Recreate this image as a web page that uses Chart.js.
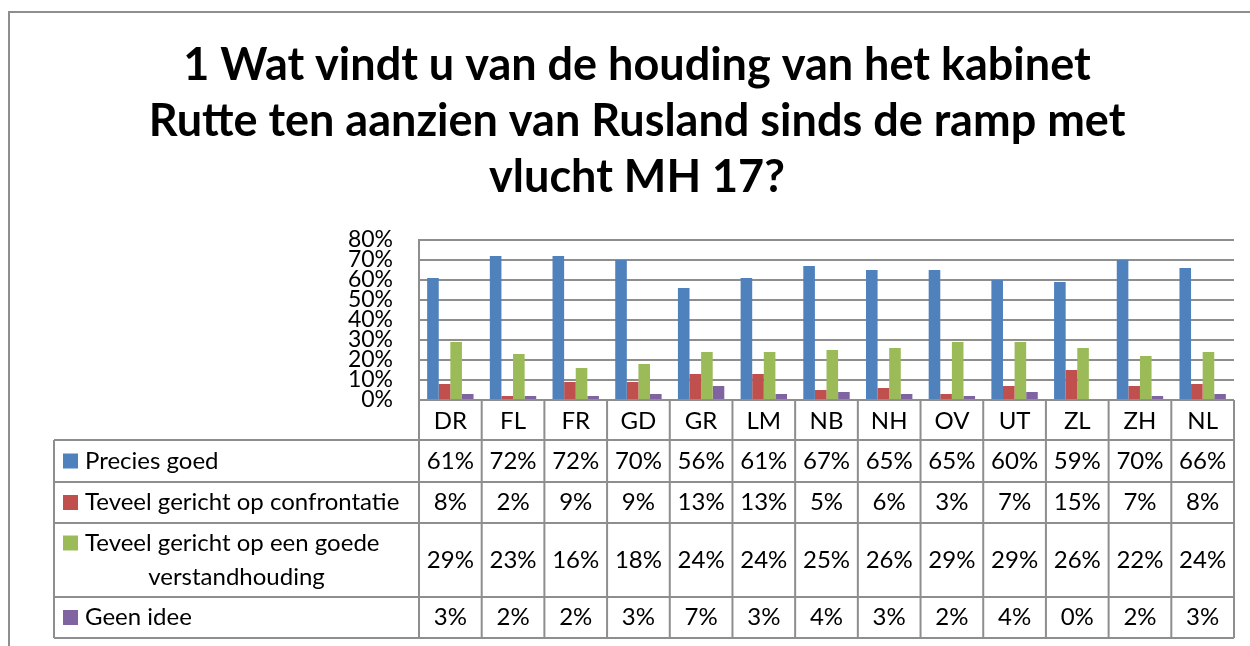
<!DOCTYPE html>
<html>
<head>
<meta charset="utf-8">
<script src="https://cdn.jsdelivr.net/npm/chart.js@4"></script>
<style>
  html, body { margin: 0; padding: 0; background: #fff; }
  #wrap { width: 1250px; height: 646px; position: relative; }
</style>
</head>
<body>
<div id="wrap"><canvas id="chart"></canvas></div>
<script>
// Data
const regions = ['DR', 'FL', 'FR', 'GD', 'GR', 'LM', 'NB', 'NH', 'OV', 'UT', 'ZL', 'ZH', 'NL'];
const preciesGoed = [61, 72, 72, 70, 56, 61, 67, 65, 65, 60, 59, 70, 66];
const confrontatie = [8, 2, 9, 9, 13, 13, 5, 6, 3, 7, 15, 7, 8];
const verstandhouding = [29, 23, 16, 18, 24, 24, 25, 26, 29, 29, 26, 22, 24];
const geenIdee = [3, 2, 2, 3, 7, 3, 4, 3, 2, 4, 0, 2, 3];
const seriesNames = ['Precies goed', 'Teveel gericht op confrontatie', 'Teveel gericht op een goede verstandhouding', 'Geen idee'];
const yTicks = [0, 10, 20, 30, 40, 50, 60, 70, 80];
const titleLines = [
    '1 Wat vindt u van de houding van het kabinet',
    'Rutte ten aanzien van Rusland sinds de ramp met',
    'vlucht MH 17?'
];

const colors = {
    blue: '#4F81BD',
    red: '#C0504D',
    green: '#9BBB59',
    purple: '#8064A2',
    line: '#8e8e8e',
    text: '#000000'
};
const FONT = "Lato, 'Open Sans', sans-serif";

/**
 * Excel style data table under the plot
 */
const dataTablePlugin = {
    id: 'dataTable',
    afterDraw(chart) {
        const { ctx, chartArea: a, scales: { x } } = chart;
        const colW = x.width / regions.length;
        const rowsTop = a.bottom + 40;
        const rowH = [42, 41, 74, 41];
        const tableLeft = 54;
        const values = [preciesGoed, confrontatie, verstandhouding, geenIdee];
        const keyColors = [colors.blue, colors.red, colors.green, colors.purple];

        ctx.save();
        ctx.strokeStyle = colors.line;
        ctx.lineWidth = 2;

        // outer frame of the chart object
        ctx.beginPath();
        ctx.moveTo(9, 646);
        ctx.lineTo(9, 12);
        ctx.lineTo(1250, 12);
        ctx.stroke();

        // row edges
        const edges = [rowsTop];
        rowH.forEach(h => edges.push(edges[edges.length - 1] + h));
        const tableBottom = edges[edges.length - 1];

        ctx.beginPath();
        edges.forEach(y => {
            ctx.moveTo(tableLeft, y);
            ctx.lineTo(a.right, y);
        });
        // left edge of series column
        ctx.moveTo(tableLeft, rowsTop);
        ctx.lineTo(tableLeft, tableBottom);
        // category column edges
        for (let i = 0; i <= regions.length; i++) {
            const cx = a.left + i * colW;
            ctx.moveTo(cx, a.bottom);
            ctx.lineTo(cx, tableBottom);
        }
        ctx.stroke();

        ctx.fillStyle = colors.text;
        ctx.textAlign = 'center';
        ctx.textBaseline = 'middle';
        ctx.font = '24px ' + FONT;

        // category labels
        regions.forEach((r, i) => {
            ctx.fillText(r, x.getPixelForValue(i), a.bottom + 21);
        });

        // series rows
        values.forEach((vals, r) => {
            const cy = (edges[r] + edges[r + 1]) / 2;
            vals.forEach((v, i) => {
                ctx.fillText(v + '%', x.getPixelForValue(i), cy);
            });
            ctx.fillStyle = keyColors[r];
            ctx.fillRect(63, (r === 2 ? cy - 17 : cy) - 7.5, 15, 15);
            ctx.fillStyle = colors.text;
        });

        ctx.textAlign = 'left';
        ctx.fillText(seriesNames[0], 85, (edges[0] + edges[1]) / 2);
        ctx.fillText(seriesNames[1], 85, (edges[1] + edges[2]) / 2);
        const c3 = (edges[2] + edges[3]) / 2;
        ctx.fillText('Teveel gericht op een goede', 85, c3 - 17);
        ctx.textAlign = 'center';
        ctx.fillText('verstandhouding', (tableLeft + a.left) / 2, c3 + 17);
        ctx.textAlign = 'left';
        ctx.fillText(seriesNames[3], 85, (edges[3] + edges[4]) / 2);

        ctx.restore();
    }
};

function makeDataset(label, data, color) {
    return {
        label: label,
        data: data,
        backgroundColor: color,
        borderWidth: 0,
        categoryPercentage: 0.74,
        barPercentage: 1.0
    };
}

const ctx = document.getElementById('chart');
new Chart(ctx, {
    type: 'bar',
    data: {
        labels: regions,
        datasets: [
            makeDataset(seriesNames[0], preciesGoed, colors.blue),
            makeDataset(seriesNames[1], confrontatie, colors.red),
            makeDataset(seriesNames[2], verstandhouding, colors.green),
            makeDataset(seriesNames[3], geenIdee, colors.purple)
        ]
    },
    options: {
        responsive: true,
        maintainAspectRatio: false,
        animation: false,
        layout: {
            padding: { left: 40, right: 16, top: 0, bottom: 246 }
        },
        plugins: {
            legend: { display: false },
            tooltip: { enabled: false },
            title: {
                display: true,
                text: titleLines,
                color: colors.text,
                font: { family: FONT, size: 45, weight: 'bold', lineHeight: 56 / 45 },
                padding: { top: 37, bottom: 35 }
            }
        },
        scales: {
            x: {
                display: false
            },
            y: {
                min: 0,
                max: 80,
                afterFit(scale) { scale.width = 379; },
                afterBuildTicks(scale) {
                    scale.ticks = yTicks.map(v => ({ value: v }));
                },
                ticks: {
                    autoSkip: false,
                    padding: 26,
                    color: colors.text,
                    font: { family: FONT, size: 23 },
                    callback: v => v + '%'
                },
                grid: {
                    color: colors.line,
                    lineWidth: 2,
                    drawTicks: false
                },
                border: { color: colors.line, width: 2 }
            }
        }
    },
    plugins: [dataTablePlugin]
});
</script>
</body>
</html>
